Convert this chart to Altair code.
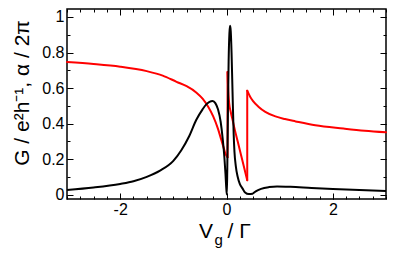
import altair as alt
import pandas as pd

# Conductance G (black curve)
g_x = [-3.0, -2.5, -2.0, -1.75, -1.5, -1.25, -1.0, -0.85, -0.7, -0.57, -0.45, -0.38,
       -0.32, -0.26, -0.21, -0.16, -0.11, -0.07, -0.04, -0.02, -0.005, 0.006, 0.015,
       0.028, 0.04, 0.055, 0.068, 0.08, 0.095, 0.11, 0.12, 0.135, 0.15, 0.175, 0.21,
       0.25, 0.3, 0.35, 0.42, 0.49, 0.55, 0.65, 0.8, 0.95, 1.2, 1.6, 2.0, 2.5, 3.0]
g_y = [0.026, 0.040, 0.060, 0.075, 0.100, 0.135, 0.19, 0.25, 0.33, 0.42, 0.48, 0.508,
       0.522, 0.527, 0.515, 0.48, 0.41, 0.31, 0.21, 0.12, 0.04, 0.0, 0.15,
       0.5, 0.75, 0.91, 0.95, 0.92, 0.80, 0.62, 0.50, 0.34, 0.24, 0.16, 0.10,
       0.06, 0.035, 0.012, 0.003, 0.005, 0.018, 0.032, 0.042, 0.046, 0.044, 0.037,
       0.031, 0.025, 0.02]

# Transmission phase alpha / 2pi (red curve); repeated x marks a jump
a_x = [-3.0, -2.5, -2.0, -1.5, -1.2, -0.94, -0.75, -0.57, -0.45, -0.35, -0.25, -0.16,
       -0.1, -0.05, -0.02, 0.02,
       0.02, 0.028, 0.038, 0.05, 0.08, 0.115, 0.16, 0.21, 0.3, 0.39,
       0.39, 0.45, 0.5, 0.6, 0.73, 0.92, 1.1, 1.3, 1.67, 2.2, 2.6, 3.0]
a_y = [0.746, 0.735, 0.72, 0.695, 0.67, 0.635, 0.61, 0.575, 0.54, 0.497, 0.44, 0.37,
       0.31, 0.26, 0.23, 0.21,
       0.69, 0.62, 0.56, 0.515, 0.465, 0.42, 0.36, 0.30, 0.19, 0.08,
       0.585, 0.548, 0.526, 0.495, 0.466, 0.44, 0.425, 0.412, 0.39, 0.372, 0.36, 0.351]

x_major = [-2, 0, 2]
x_minor = [-3 + 0.25 * i for i in range(25)]
y_major = [0, 0.2, 0.4, 0.6, 0.8, 1.0]
y_minor = [0, 0.1, 0.2, 0.3, 0.4, 0.5, 0.6, 0.7, 0.8, 0.9, 1.0]

y_title = "G / e\u00b2h\u207b\u00b9, \u03b1 / 2\u03c0"

g_df = pd.DataFrame({"x": g_x, "y": g_y, "i": range(len(g_x))})

rows = []
seg = 0
for k, (xv, yv) in enumerate(zip(a_x, a_y)):
    if k > 0 and xv == a_x[k - 1]:
        seg += 1
        rows.append((seg, a_x[k - 1], a_y[k - 1]))
        rows.append((seg, xv, yv))
        seg += 1
    rows.append((seg, xv, yv))
a_df = pd.DataFrame(rows, columns=["seg", "x", "y"])
a_df["i"] = range(len(a_df))

FONT = "Liberation Sans"
W, H = 319, 190
xs = alt.Scale(domain=[-3, 3], nice=False, zero=False)
ys = alt.Scale(domain=[-0.025, 1.045], nice=False, zero=False)


def ax(orient, values, size, labels=False, pad=3):
    kw = dict(orient=orient, values=values, tickSize=size, offset=-size,
              domain=False, grid=False, ticks=True, tickColor="black",
              tickWidth=1, title=None, labels=labels)
    if labels:
        kw.update(labelExpr="toString(datum.value)", labelFont=FONT,
                  labelFontSize=16, labelColor="black", labelPadding=pad,
                  labelOverlap=False, labelFlush=False)
    return alt.Axis(**kw)


red = alt.Chart(a_df).mark_line(color="#ff0000", strokeWidth=2,
                                interpolate="monotone", strokeCap="round").encode(
    x=alt.X("x:Q", scale=xs, axis=ax("bottom", x_minor, 3)),
    y=alt.Y("y:Q", scale=ys, axis=ax("left", y_minor, 3)),
    detail="seg:N",
    order="i:Q",
)

black = alt.Chart(g_df).mark_line(color="black", strokeWidth=2,
                                  interpolate="monotone").encode(
    x=alt.X("x:Q", scale=xs, axis=ax("bottom", x_major, 6, labels=True, pad=2)),
    y=alt.Y("y:Q", scale=ys, axis=ax("left", y_major, 6, labels=True, pad=3)),
    order="i:Q",
)

mirror_major = alt.Chart(g_df).mark_line(opacity=0).encode(
    x=alt.X("x:Q", scale=xs, axis=ax("top", x_major, 6)),
    y=alt.Y("y:Q", scale=ys, axis=ax("right", y_major, 6)),
)
mirror_minor = alt.Chart(g_df).mark_line(opacity=0).encode(
    x=alt.X("x:Q", scale=xs, axis=ax("top", x_minor, 3)),
    y=alt.Y("y:Q", scale=ys, axis=ax("right", y_minor, 3)),
)

one = pd.DataFrame({"k": [0]})
ytitle = alt.Chart(one).mark_text(text=y_title, angle=270, font=FONT, fontSize=21,
                                  align="center", baseline="alphabetic",
                                  color="black").encode(
    x=alt.value(-38), y=alt.value(84))
xt_v = alt.Chart(one).mark_text(text="V", font=FONT, fontSize=21, align="left",
                                baseline="alphabetic", color="black").encode(
    x=alt.value(132), y=alt.value(229))
xt_g = alt.Chart(one).mark_text(text="g", font=FONT, fontSize=15, align="left",
                                baseline="alphabetic", color="black").encode(
    x=alt.value(147.5), y=alt.value(235.5))
xt_rest = alt.Chart(one).mark_text(text="/ \u0393", font=FONT, fontSize=21,
                                   align="left", baseline="alphabetic",
                                   color="black").encode(
    x=alt.value(160.5), y=alt.value(229))

chart = alt.layer(red, black, mirror_major, mirror_minor, ytitle, xt_v, xt_g, xt_rest).resolve_axis(
    x="independent", y="independent"
).properties(
    width=W, height=H,
    padding={"left": 59, "top": 1, "right": 1, "bottom": 49},
    autosize=alt.AutoSizeParams(type="none"),
    background="white",
).configure_view(stroke="black", strokeWidth=1.5)

chart.save("out.html", embed_options={"renderer": "svg", "actions": False})
